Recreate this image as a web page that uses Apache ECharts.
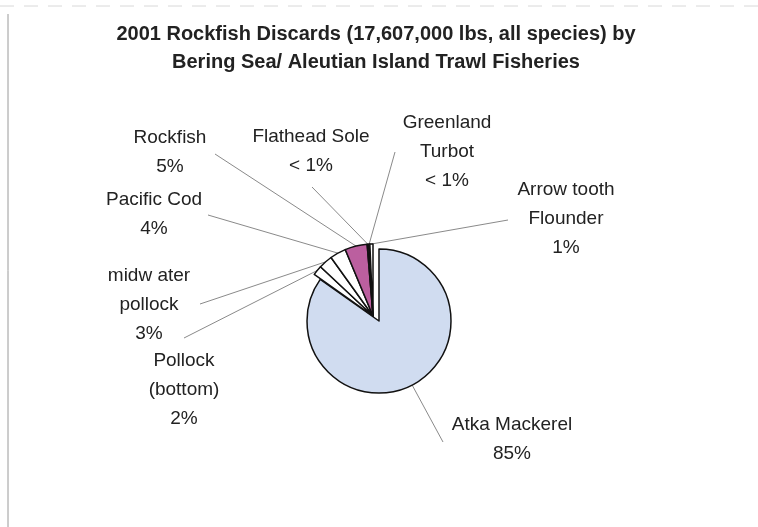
<!DOCTYPE html>
<html><head><meta charset="utf-8">
<script src="https://cdn.jsdelivr.net/npm/echarts@6/dist/echarts.min.js"></script>
<style>html,body{margin:0;padding:0;background:#fff}#c{width:758px;height:527px}</style>
</head><body><div id="c"></div>
<script>
// Data
var categories = ['Atka Mackerel','Pollock (bottom)','midwater pollock','Pacific Cod','Rockfish','Flathead Sole','Greenland Turbot','Arrowtooth Flounder'];
var labelNames = ['Atka Mackerel','Pollock\n(bottom)','midw ater\npollock','Pacific Cod','Rockfish','Flathead Sole','Greenland\nTurbot','Arrow tooth\nFlounder'];
var values = [84.8, 2.2, 3.1, 3.6, 5.0, 0.3, 0.3, 0.7];
var pctLabels = ['85%','2%','3%','4%','5%','< 1%','< 1%','1%'];
var colors = ['#d0dcf0','#ffffff','#ffffff','#ffffff','#bb5f9f','#ffffff','#ffffff','#ffffff'];
var exploded = [true,false,false,false,false,false,false,false];

// Layout (label block centres and leader-line ends near labels)
var labelPos = [[512,439],[184,390],[149,305],[154,214],[170,152],[311,151],[447,152],[566,219]];
var lineEnd = [[443,442],[184,338],[200,304],[208,215],[215,154],[312,187],[395,152],[508,220]];

var FONT = 'Liberation Sans, Arial, sans-serif';
var chart = echarts.init(document.getElementById('c'), null, {renderer:'canvas'});

function makeData(showExploded){
  return categories.map(function(c,i){
    var vis = exploded[i] === showExploded;
    return {
      name:c, value:values[i],
      itemStyle: vis ? {color:colors[i], borderColor:'#111', borderWidth:1.5}
                     : {color:'rgba(0,0,0,0)', borderWidth:0},
      label:{show:vis},
      labelLine:{show:vis}
    };
  });
}
function makeSeries(showExploded, center){
  return {
    type:'pie',
    center:center,
    radius:72,
    startAngle:90,
    clockwise:true,
    avoidLabelOverlap:false,
    emphasis:{disabled:true},
    label:{
      position:'outside',
      fontFamily:FONT, fontSize:19, color:'#222', lineHeight:29, align:'center',
      formatter:function(p){ return labelNames[p.dataIndex] + '\n' + pctLabels[p.dataIndex]; }
    },
    labelLine:{length:10, length2:10, lineStyle:{color:'#8a8a8a', width:1}},
    labelLayout:function(p){
      var i = p.dataIndex;
      var p0 = p.labelLinePoints ? p.labelLinePoints[0] : lineEnd[i];
      return {
        x:labelPos[i][0], y:labelPos[i][1], align:'center', verticalAlign:'middle',
        labelLinePoints:[p0, lineEnd[i], lineEnd[i]]
      };
    },
    data:makeData(showExploded)
  };
}

chart.setOption({
  backgroundColor:'#fff',
  animation:false,
  title:{
    text:'2001 Rockfish Discards (17,607,000 lbs, all species) by\nBering Sea/ Aleutian Island Trawl Fisheries',
    left:371, top:15, textAlign:'center',
    textStyle:{fontFamily:FONT, fontSize:20, fontWeight:'bold', color:'#222', lineHeight:28}
  },
  graphic:[
    {type:'line', shape:{x1:8,y1:14,x2:8,y2:527}, style:{stroke:'#9a9a9a', lineWidth:1}},
    {type:'line', shape:{x1:0,y1:6,x2:758,y2:6}, style:{stroke:'#d8d8d8', lineWidth:1, lineDash:[14,10]}}
  ],
  series:[ makeSeries(true,[379,321]), makeSeries(false,[373,316]) ]
});
</script></body></html>
